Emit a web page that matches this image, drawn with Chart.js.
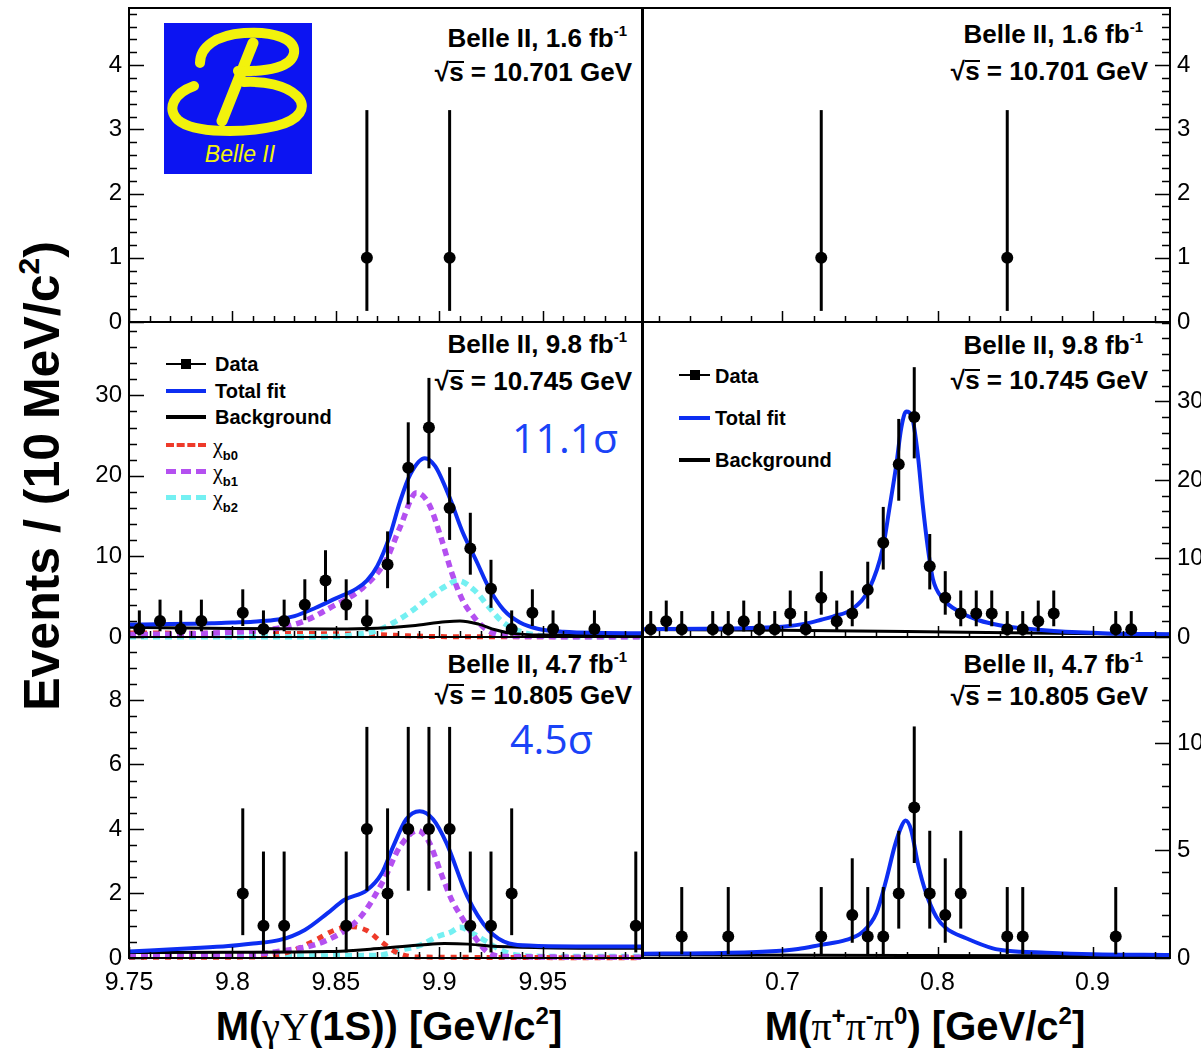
<!DOCTYPE html>
<html>
<head>
<meta charset="utf-8">
<title>Belle II: M(gamma Upsilon(1S)) and M(pi+pi-pi0)</title>
<script src="https://cdn.jsdelivr.net/npm/chart.js@4.4.1/dist/chart.umd.min.js"></script>
<style>
  html, body { margin:0; padding:0; background:#fff; overflow:hidden; }
  #wrap { position:relative; width:1201px; height:1050px; overflow:hidden; background:#fff;
          font-family:"Liberation Sans", Arial, Helvetica, sans-serif; color:#000; }
  #wrap canvas { position:absolute; }
  .t { position:absolute; white-space:nowrap; }
  .info { font-weight:bold; font-size:26px; line-height:26px; text-align:right; }
  .info sup { font-size:15px; line-height:0; vertical-align:0; position:relative; top:-11px; }
  .rt { display:inline-block; line-height:19px; border-top:2.5px solid #000; }
  .sig { font-family:"Open Sans", sans-serif; font-size:41px; line-height:41px; color:#1a43f7; }
  .leg { font-weight:bold; font-size:20px; line-height:20px; }
  .leg .sym { font-family:"Liberation Serif", "DejaVu Serif", serif; font-weight:normal; font-size:22px; }
  .leg sub { font-size:13px; line-height:0; vertical-align:0; position:relative; top:7px; }
  .smp { position:absolute; height:0; }
  .axt { font-weight:bold; font-size:40px; line-height:40px; transform:translateX(-50%); }
  .axt .sym { font-family:"Liberation Serif", "DejaVu Serif", serif; font-weight:normal; }
  .axt sup { font-size:24px; line-height:0; vertical-align:0; position:relative; top:-16px; }
  .yt { font-weight:bold; font-size:50px; line-height:50px; transform:translate(-50%,-50%) rotate(-90deg); }
  .yt sup { font-size:30px; line-height:0; vertical-align:0; position:relative; top:-20px; }
</style>
</head>
<body>
<div id="wrap">
  <!-- Belle II logo -->
  <svg class="t" style="left:164px;top:23px" width="148" height="151" viewBox="0 0 148 151">
    <rect x="0" y="0" width="148" height="151" fill="#0c14f2"/>
    <g fill="none" stroke="#f2f20c" stroke-linecap="round">
      <path d="M89,20 L58,98" stroke-width="11"/>
      <path d="M36,40 C36,24 52,12 80,10 C110,8 132,16 130,30 C128,44 104,49 74,48" stroke-width="10"/>
      <path d="M30,63 C10,70 2,86 14,97 C30,111 82,110 112,103 C136,97 144,84 133,73 C122,62 100,58 80,59" stroke-width="10"/>
    </g>
    <text x="76" y="139" text-anchor="middle" fill="#f2f20c" font-family="Liberation Sans, Arial, sans-serif" font-style="italic" font-size="23">Belle II</text>
  </svg>

  <!-- info labels -->
  <div class="t info" style="right:574px;top:25px">Belle II, 1.6 fb<sup>-1</sup></div>
  <div class="t info" style="right:569px;top:59px">√<span class="rt">s</span> = 10.701 GeV</div>
  <div class="t info" style="right:574px;top:331px">Belle II, 9.8 fb<sup>-1</sup></div>
  <div class="t info" style="right:569px;top:368px">√<span class="rt">s</span> = 10.745 GeV</div>
  <div class="t info" style="right:574px;top:651px">Belle II, 4.7 fb<sup>-1</sup></div>
  <div class="t info" style="right:569px;top:682px">√<span class="rt">s</span> = 10.805 GeV</div>
  <div class="t info" style="right:58px;top:21px">Belle II, 1.6 fb<sup>-1</sup></div>
  <div class="t info" style="right:53px;top:58px">√<span class="rt">s</span> = 10.701 GeV</div>
  <div class="t info" style="right:58px;top:332px">Belle II, 9.8 fb<sup>-1</sup></div>
  <div class="t info" style="right:53px;top:367px">√<span class="rt">s</span> = 10.745 GeV</div>
  <div class="t info" style="right:58px;top:651px">Belle II, 4.7 fb<sup>-1</sup></div>
  <div class="t info" style="right:53px;top:683px">√<span class="rt">s</span> = 10.805 GeV</div>

  <!-- significances -->
  <div class="t sig" style="left:512px;top:417px">11.1σ</div>
  <div class="t sig" style="left:510px;top:718px">4.5σ</div>

  <!-- legend middle-left -->
  <div class="smp" style="left:166px;top:363px;width:40px;border-top:2px solid #000"></div>
  <div class="smp" style="left:181px;top:359px;width:10px;height:10px;background:#000"></div>
  <div class="t leg" style="left:215px;top:354px">Data</div>
  <div class="smp" style="left:166px;top:389px;width:40px;border-top:4px solid #0d2ef2"></div>
  <div class="t leg" style="left:215px;top:381px">Total fit</div>
  <div class="smp" style="left:166px;top:415px;width:40px;border-top:4px solid #000"></div>
  <div class="t leg" style="left:215px;top:407px">Background</div>
  <div class="smp" style="left:166px;top:443px;width:40px;border-top:4px dashed #ee3a2a"></div>
  <div class="t leg" style="left:213px;top:436px"><span class="sym">χ</span><sub>b0</sub></div>
  <div class="smp" style="left:166px;top:469px;width:40px;border-top:5px dashed #b450f0"></div>
  <div class="t leg" style="left:213px;top:462px"><span class="sym">χ</span><sub>b1</sub></div>
  <div class="smp" style="left:166px;top:495px;width:40px;border-top:5px dashed #74f0f2"></div>
  <div class="t leg" style="left:213px;top:488px"><span class="sym">χ</span><sub>b2</sub></div>

  <!-- legend middle-right -->
  <div class="smp" style="left:679px;top:374px;width:31px;border-top:2px solid #000"></div>
  <div class="smp" style="left:690px;top:370px;width:10px;height:10px;background:#000"></div>
  <div class="t leg" style="left:715px;top:366px">Data</div>
  <div class="smp" style="left:679px;top:416px;width:31px;border-top:4px solid #0d2ef2"></div>
  <div class="t leg" style="left:715px;top:408px">Total fit</div>
  <div class="smp" style="left:679px;top:458px;width:31px;border-top:4px solid #000"></div>
  <div class="t leg" style="left:715px;top:450px">Background</div>

  <!-- axis titles -->
  <div class="t axt" style="left:389px;top:1006px">M(<span class="sym">γΥ</span>(1S)) [GeV/c<sup>2</sup>]</div>
  <div class="t axt" style="left:925px;top:1006px">M(<span class="sym">π</span><sup>+</sup><span class="sym">π</span><sup>-</sup><span class="sym">π</span><sup>0</sup>) [GeV/c<sup>2</sup>]</div>
  <div class="t yt" style="left:42px;top:476px">Events / (10 MeV/c<sup>2</sup>)</div>
</div>

<script>
// ---------------- tick labels ----------------
const xTicksLeft  = [9.75, 9.8, 9.85, 9.9, 9.95];
const xTicksRight = [0.7, 0.8, 0.9];
const yTicksTop   = [0, 1, 2, 3, 4];
const yTicksMid   = [0, 10, 20, 30];
const yTicksBotL  = [0, 2, 4, 6, 8];
const yTicksBotR  = [0, 5, 10];

// ---------------- data (bin centres, counts) ----------------
const topLeftX = [9.865, 9.905];
const topLeftY = [1, 1];
const topRightX = [0.725, 0.845];
const topRightY = [1, 1];

const midLeftX = [9.755, 9.765, 9.775, 9.785, 9.805, 9.815, 9.825, 9.835, 9.845, 9.855, 9.865,
                  9.875, 9.885, 9.895, 9.905, 9.915, 9.925, 9.935, 9.945, 9.955, 9.975];
const midLeftY = [1, 2, 1, 2, 3, 1, 2, 4, 7, 4, 2, 9, 21, 26, 16, 11, 6, 1, 3, 1, 1];

const botLeftX = [9.805, 9.815, 9.825, 9.855, 9.865, 9.875, 9.885, 9.895, 9.905, 9.915, 9.925, 9.935, 9.995];
const botLeftY = [2, 1, 1, 1, 4, 2, 4, 4, 4, 1, 1, 2, 1];

const midRightX = [0.615, 0.625, 0.635, 0.655, 0.665, 0.675, 0.685, 0.695, 0.705, 0.715, 0.725, 0.735,
                   0.745, 0.755, 0.765, 0.775, 0.785, 0.795, 0.805, 0.815, 0.825, 0.835, 0.845, 0.855,
                   0.865, 0.875, 0.915, 0.925];
const midRightY = [1, 2, 1, 1, 1, 2, 1, 1, 3, 1, 5, 2, 3, 6, 12, 22, 28, 9, 5, 3, 3, 3, 1, 1, 2, 3, 1, 1];

const botRightX = [0.635, 0.665, 0.725, 0.745, 0.755, 0.765, 0.775, 0.785, 0.795, 0.805, 0.815, 0.845, 0.855, 0.915];
const botRightY = [1, 1, 1, 2, 1, 1, 3, 7, 3, 2, 3, 1, 1, 1];

// Poisson (Garwood 68.3%) interval bounds for a count
const errLow  = {1:0.173, 2:0.708, 3:1.367, 4:2.086, 5:2.840, 6:3.620, 7:4.419, 9:6.057, 11:7.734,
                 12:8.585, 16:12.05, 21:16.46, 22:17.35, 26:20.94, 28:22.74};
const errHigh = {1:3.300, 2:4.638, 3:5.918, 4:7.163, 5:8.382, 6:9.584, 7:10.77, 9:13.11, 11:15.42,
                 12:16.56, 16:21.08, 21:26.65, 22:27.76, 26:32.16, 28:34.35};

// ---------------- fit curves ----------------
const mlTotalX = [9.75, 9.77, 9.79, 9.80, 9.81, 9.82, 9.83, 9.84, 9.85, 9.86, 9.865, 9.87, 9.876, 9.881,
                  9.886, 9.893, 9.898, 9.905, 9.911, 9.918, 9.924, 9.931, 9.939, 9.948, 9.96, 9.98, 9.998];
const mlTotalY = [1.55, 1.6, 1.7, 1.8, 1.9, 2.1, 2.6, 3.6, 4.8, 6.0, 7.0, 8.8, 12.5, 16.8,
                  20.2, 22.2, 21.2, 17.3, 13.2, 9.4, 6.1, 3.4, 1.8, 1.0, 0.65, 0.5, 0.45];
const mlBkgX = [9.75, 9.80, 9.85, 9.87, 9.887, 9.903, 9.91, 9.919, 9.927, 9.935, 9.95, 9.998];
const mlBkgY = [1.2, 1.05, 1.0, 1.1, 1.4, 1.9, 2.0, 1.6, 0.9, 0.45, 0.25, 0.2];
const mlChib0X = [9.75, 9.80, 9.85, 9.87, 9.885, 9.90, 9.95, 9.998];
const mlChib0Y = [0.5, 0.45, 0.4, 0.3, 0.15, 0.05, 0.02, 0.02];
const mlChib1X = [9.75, 9.78, 9.80, 9.82, 9.835, 9.847, 9.863, 9.874, 9.881, 9.889, 9.895, 9.901,
                  9.906, 9.911, 9.917, 9.923, 9.932, 9.95, 9.998];
const mlChib1Y = [0.3, 0.4, 0.6, 1.0, 2.0, 3.6, 6.1, 9.4, 13.6, 17.9, 16.5, 12.2,
                  8.0, 4.7, 2.4, 0.9, 0.15, 0.05, 0.02];
const mlChib2X = [9.75, 9.85, 9.86, 9.87, 9.878, 9.886, 9.895, 9.903, 9.909, 9.917, 9.924, 9.93,
                  9.938, 9.948, 9.96, 9.998];
const mlChib2Y = [0.02, 0.05, 0.3, 0.8, 1.8, 3.1, 4.9, 6.3, 7.0, 5.8, 3.7, 2.0, 0.8, 0.2, 0.05, 0.02];

const blTotalX = [9.75, 9.78, 9.798, 9.81, 9.823, 9.835, 9.846, 9.854, 9.865, 9.872, 9.878, 9.884,
                  9.8905, 9.897, 9.9035, 9.9136, 9.9237, 9.9338, 9.9456, 9.97, 9.998];
const blTotalY = [0.2, 0.3, 0.37, 0.45, 0.56, 0.87, 1.39, 1.8, 2.1, 2.6, 3.5, 4.3,
                  4.55, 4.3, 3.56, 1.9, 0.87, 0.45, 0.38, 0.36, 0.36];
const blBkgX = [9.75, 9.80, 9.846, 9.872, 9.891, 9.9025, 9.914, 9.924, 9.95, 9.998];
const blBkgY = [0.17, 0.18, 0.2, 0.3, 0.4, 0.45, 0.43, 0.37, 0.32, 0.3];
const blChib0X = [9.75, 9.81, 9.82, 9.83, 9.84, 9.85, 9.858, 9.865, 9.872, 9.88, 9.89, 9.998];
const blChib0Y = [0.02, 0.03, 0.08, 0.25, 0.55, 0.88, 0.97, 0.85, 0.5, 0.15, 0.03, 0.01];
const blChib1X = [9.75, 9.80, 9.822, 9.846, 9.862, 9.873, 9.881, 9.8896, 9.895, 9.901, 9.906,
                  9.911, 9.917, 9.923, 9.93, 9.998];
const blChib1Y = [0.05, 0.08, 0.2, 0.56, 1.28, 2.4, 3.45, 3.95, 3.6, 2.6, 1.8, 1.25, 0.66, 0.2, 0.05, 0.02];
const blChib2X = [9.75, 9.87, 9.881, 9.891, 9.899, 9.9055, 9.91, 9.9165, 9.923, 9.93, 9.936, 9.95, 9.998];
const blChib2Y = [0.05, 0.08, 0.24, 0.4, 0.66, 0.8, 0.95, 0.75, 0.5, 0.24, 0.1, 0.05, 0.05];

const mrTotalX = [0.61, 0.65, 0.68, 0.70, 0.715, 0.725, 0.7325, 0.7454, 0.7561, 0.7647, 0.769, 0.7734,
                  0.7766, 0.7798, 0.7837, 0.7873, 0.7905, 0.7938, 0.797, 0.8034, 0.8142, 0.8271, 0.84,
                  0.855, 0.875, 0.91, 0.95];
const mrTotalY = [1.0, 1.05, 1.15, 1.3, 1.7, 2.2, 2.6, 3.6, 6.2, 11.3, 16.4, 21.9,
                  26.6, 28.7, 27.9, 23.2, 16.8, 11.3, 7.4, 4.9, 3.2, 2.1, 1.5,
                  1.1, 0.75, 0.45, 0.35];
const mrBkgX = [0.61, 0.70, 0.78, 0.86, 0.95];
const mrBkgY = [0.95, 0.85, 0.7, 0.5, 0.35];

const brTotalX = [0.61, 0.65, 0.69, 0.71, 0.7239, 0.7411, 0.7518, 0.7605, 0.7669, 0.7723, 0.7766, 0.7794,
                  0.783, 0.7873, 0.7927, 0.7992, 0.8056, 0.8185, 0.8357, 0.845, 0.87, 0.90, 0.95];
const brTotalY = [0.2, 0.22, 0.3, 0.42, 0.6, 0.84, 1.22, 2.08, 3.63, 5.18, 6.1, 6.39,
                  5.95, 4.4, 3.0, 1.92, 1.38, 0.92, 0.45, 0.34, 0.25, 0.18, 0.14];
const brBkgX = [0.61, 0.78, 0.95];
const brBkgY = [0.15, 0.12, 0.1];

// ---------------- styles ----------------
const BLUE = '#0d2ef2', BLACK = '#000000', RED = '#ee3a2a', PURPLE = '#b450f0', CYAN = '#74f0f2';
const totalStyle = {color: BLUE, width: 4, clip: 2};
const bkgStyle   = {color: BLACK, width: 3, clip: 2};
const chib0Style = {color: RED, width: 5, dash: [6, 6], clip: 4};
const chib1Style = {color: PURPLE, width: 5.5, dash: [7, 5], clip: 4};
const chib2Style = {color: CYAN, width: 5.5, dash: [7, 5], clip: 4};

const PAD = 28, YW = 62, XH = 48;

const panels = [
  {L:129, T:8,   R:642,  B:322, side:'left',  xLab:false, xMin:9.75, xMax:9.998, yMax:4.89,
   xTicks:xTicksLeft, xMinorStart:9.75, xMinor:0.01, yTicks:yTicksTop, yMinor:0.2,
   dx:topLeftX, dy:topLeftY, curves:[]},
  {L:129, T:322, R:642,  B:637, side:'left',  xLab:false, xMin:9.75, xMax:9.998, yMax:39.1,
   xTicks:xTicksLeft, xMinorStart:9.75, xMinor:0.01, yTicks:yTicksMid, yMinor:2,
   dx:midLeftX, dy:midLeftY,
   curves:[[mlTotalX, mlTotalY, totalStyle], [mlBkgX, mlBkgY, bkgStyle], [mlChib1X, mlChib1Y, chib1Style],
           [mlChib2X, mlChib2Y, chib2Style], [mlChib0X, mlChib0Y, chib0Style]]},
  {L:129, T:637, R:642,  B:958, side:'left',  xLab:true,  xMin:9.75, xMax:9.998, yMax:9.95,
   xTicks:xTicksLeft, xMinorStart:9.75, xMinor:0.01, yTicks:yTicksBotL, yMinor:0.5,
   dx:botLeftX, dy:botLeftY,
   curves:[[blTotalX, blTotalY, totalStyle], [blBkgX, blBkgY, bkgStyle], [blChib1X, blChib1Y, chib1Style],
           [blChib0X, blChib0Y, chib0Style], [blChib2X, blChib2Y, chib2Style]]},
  {L:643, T:8,   R:1170, B:322, side:'right', xLab:false, xMin:0.61, xMax:0.95, yMax:4.89,
   xTicks:xTicksRight, xMinorStart:0.62, xMinor:0.02, yTicks:yTicksTop, yMinor:0.2,
   dx:topRightX, dy:topRightY, curves:[]},
  {L:643, T:322, R:1170, B:637, side:'right', xLab:false, xMin:0.61, xMax:0.95, yMax:40.1,
   xTicks:xTicksRight, xMinorStart:0.62, xMinor:0.02, yTicks:yTicksMid, yMinor:2,
   dx:midRightX, dy:midRightY,
   curves:[[mrTotalX, mrTotalY, totalStyle], [mrBkgX, mrBkgY, bkgStyle]]},
  {L:643, T:637, R:1170, B:958, side:'right', xLab:true,  xMin:0.61, xMax:0.95, yMax:14.93,
   xTicks:xTicksRight, xMinorStart:0.62, xMinor:0.02, yTicks:yTicksBotR, yMinor:1,
   dx:botRightX, dy:botRightY,
   curves:[[brTotalX, brTotalY, totalStyle], [brBkgX, brBkgY, bkgStyle]]}
];

const fmt = v => String(Math.round(v * 1000) / 1000);

function makePanel(p) {
  const wrap = document.getElementById('wrap');
  const cv = document.createElement('canvas');
  const left = p.L - (p.side === 'left' ? YW : PAD);
  const top = p.T - PAD;
  const w = (p.R - p.L) + YW + PAD;
  const h = (p.B - p.T) + PAD + (p.xLab ? XH : PAD);
  cv.width = w; cv.height = h;
  cv.style.left = left + 'px'; cv.style.top = top + 'px';
  cv.style.width = w + 'px'; cv.style.height = h + 'px';
  wrap.appendChild(cv);

  const datasets = [{
    type: 'scatter', isData: true,
    data: p.dx.map((x, i) => ({x: x, y: p.dy[i]})),
    pointRadius: 6, pointHoverRadius: 6, pointBackgroundColor: '#000', pointBorderWidth: 0,
    showLine: false, order: 0, clip: 8
  }];
  p.curves.forEach((c, k) => {
    const [xs, ys, st] = c;
    datasets.push({
      type: 'line', data: xs.map((x, i) => ({x: x, y: ys[i]})),
      borderColor: st.color, borderWidth: st.width, borderDash: st.dash || [],
      pointRadius: 0, pointHoverRadius: 0, fill: false, cubicInterpolationMode: 'monotone',
      borderCapStyle: 'butt', order: 1 + k,
      clip: {left: 0, right: 0, top: 0, bottom: st.clip}
    });
  });

  const isMajor = (arr, v) => arr.some(t => Math.abs(t - v) < 1e-7);

  const decor = {
    id: 'decor' + p.L + '_' + p.T,
    beforeDatasetDraw(chart, args) {
      const ds = chart.data.datasets[args.index];
      if (!ds.isData) return;
      const {ctx, chartArea: a} = chart;
      const xs = chart.scales.x, ysc = chart.scales.y;
      ctx.save();
      ctx.beginPath(); ctx.rect(a.left, a.top, a.right - a.left, a.bottom - a.top); ctx.clip();
      ctx.strokeStyle = '#000'; ctx.lineWidth = 3;
      ds.data.forEach(pt => {
        const px = xs.getPixelForValue(pt.x);
        ctx.beginPath();
        ctx.moveTo(px, ysc.getPixelForValue(errLow[pt.y]));
        ctx.lineTo(px, ysc.getPixelForValue(errHigh[pt.y]));
        ctx.stroke();
      });
      ctx.restore();
    },
    afterDatasetsDraw(chart) {
      const {ctx, chartArea: a} = chart;
      const xs = chart.scales.x, ysc = chart.scales.y;
      ctx.save();
      ctx.strokeStyle = '#000';
      ctx.lineWidth = 1.5;
      ctx.beginPath();
      for (let i = 0; ; i++) {
        const v = p.xMinorStart + i * p.xMinor;
        if (v > p.xMax + 1e-9) break;
        const px = Math.round(xs.getPixelForValue(v)) + 0.5;
        const len = isMajor(p.xTicks, Math.round(v * 1000) / 1000) ? 11 : 6;
        ctx.moveTo(px, a.bottom); ctx.lineTo(px, a.bottom - len);
      }
      for (let i = 0; ; i++) {
        const v = i * p.yMinor;
        if (v > p.yMax + 1e-9) break;
        const py = Math.round(ysc.getPixelForValue(v)) + 0.5;
        const len = isMajor(p.yTicks, Math.round(v * 1000) / 1000) ? 15 : 8;
        if (p.side === 'left') { ctx.moveTo(a.left, py); ctx.lineTo(a.left + len, py); }
        else { ctx.moveTo(a.right, py); ctx.lineTo(a.right - len, py); }
      }
      ctx.stroke();
      ctx.lineWidth = 2;
      ctx.strokeRect(a.left, a.top, a.right - a.left, a.bottom - a.top);
      ctx.restore();
    }
  };

  new Chart(cv, {
    type: 'scatter',
    data: {datasets: datasets},
    options: {
      responsive: false, animation: false, devicePixelRatio: 1, events: [],
      layout: {padding: {left: p.side === 'left' ? 0 : PAD, right: p.side === 'right' ? 0 : PAD,
                         top: PAD, bottom: p.xLab ? 0 : PAD}},
      plugins: {legend: {display: false}, tooltip: {enabled: false}},
      scales: {
        x: {
          type: 'linear', position: 'bottom', min: p.xMin, max: p.xMax,
          grid: {display: false, drawTicks: false}, border: {display: false},
          ticks: {display: p.xLab, color: '#000', padding: 10, autoSkip: false, maxRotation: 0,
                  font: {family: '"Liberation Sans", Arial, sans-serif', size: 25}, callback: fmt},
          afterBuildTicks: s => { s.ticks = p.xTicks.map(v => ({value: v})); },
          afterFit: s => { s.height = p.xLab ? XH : 0; }
        },
        y: {
          type: 'linear', position: p.side, min: 0, max: p.yMax,
          grid: {display: false, drawTicks: false}, border: {display: false},
          ticks: {color: '#000', padding: 7, autoSkip: false,
                  font: {family: '"Liberation Sans", Arial, sans-serif', size: 24}, callback: fmt},
          afterBuildTicks: s => { s.ticks = p.yTicks.map(v => ({value: v})); },
          afterFit: s => { s.width = YW; }
        }
      }
    },
    plugins: [decor]
  });
}

panels.forEach(makePanel);
</script>
</body>
</html>
